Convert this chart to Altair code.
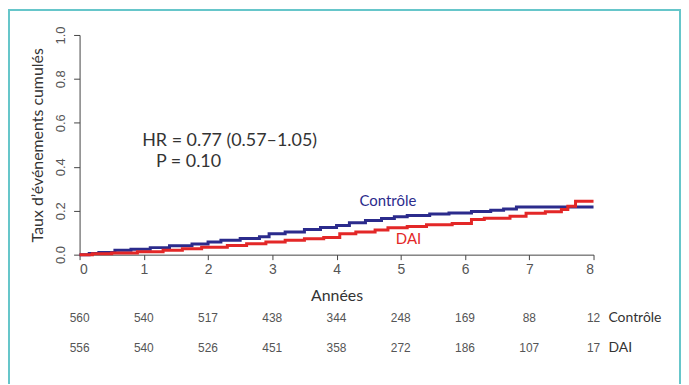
import altair as alt
import pandas as pd

# Cumulative event curves (step functions)
ctrl_t = [0, 0.15, 0.3, 0.55, 0.8, 1.1, 1.4, 1.75, 2.0, 2.2, 2.5, 2.8, 2.95, 3.2, 3.5, 3.75,
          4.0, 4.2, 4.45, 4.7, 4.9, 5.1, 5.45, 5.75, 6.1, 6.4, 6.6, 6.8, 8.0]
ctrl_v = [0, 0.005, 0.01, 0.02, 0.025, 0.032, 0.04, 0.048, 0.058, 0.066, 0.074, 0.082, 0.095,
          0.103, 0.115, 0.124, 0.133, 0.145, 0.155, 0.165, 0.172, 0.178, 0.185, 0.19, 0.196,
          0.202, 0.208, 0.217, 0.217]
dai_t = [0, 0.2, 0.5, 0.9, 1.3, 1.6, 1.9, 2.3, 2.6, 2.9, 3.2, 3.5, 3.8, 4.05, 4.3, 4.6, 4.8,
         5.1, 5.4, 5.8, 6.1, 6.3, 6.7, 6.95, 7.25, 7.5, 7.6, 7.72, 8.0]
dai_v = [0, 0.004, 0.008, 0.013, 0.02, 0.027, 0.034, 0.042, 0.05, 0.058, 0.066, 0.072, 0.078,
         0.095, 0.103, 0.112, 0.122, 0.128, 0.136, 0.142, 0.16, 0.166, 0.175, 0.188, 0.195,
         0.205, 0.22, 0.243, 0.243]

# Number at risk
years = [0, 1, 2, 3, 4, 5, 6, 7, 8]
risk_ctrl = [560, 540, 517, 438, 344, 248, 169, 88, 12]
risk_dai = [556, 540, 526, 451, 358, 272, 186, 107, 17]

x_ticks = [0, 1, 2, 3, 4, 5, 6, 7, 8]
y_ticks = [0.0, 0.2, 0.4, 0.6, 0.8, 1.0]

BLUE = "#2b2b8c"
RED = "#e32727"
TEAL = "#66c6ca"
FONT = "Lato"
NUMFONT = "Liberation Sans Narrow, Liberation Sans, Arial"

curves = pd.concat([
    pd.DataFrame({"t": ctrl_t, "v": ctrl_v, "g": "Contrôle"}),
    pd.DataFrame({"t": dai_t, "v": dai_v, "g": "DAI"}),
])

xs = alt.Scale(domain=[0, 8], nice=False, zero=False)
ys = alt.Scale(domain=[0, 1], nice=False)

lines = alt.Chart(curves).mark_line(interpolate="step-after", strokeWidth=3).encode(
    x=alt.X("t:Q", scale=xs, axis=alt.Axis(
        values=x_ticks, title="Années", format="d", grid=False,
        domainColor="#444", tickColor="#444", tickSize=5,
        labelFont=NUMFONT, labelFontSize=14, labelColor="#555", labelPadding=3,
        titleFont=FONT, titleFontSize=16, titleFontWeight="normal", titleColor="#333",
        titlePadding=11)),
    y=alt.Y("v:Q", scale=ys, axis=alt.Axis(
        values=y_ticks, title="Taux d’événements cumulés", format=".1f", grid=False,
        domainColor="#444", tickColor="#444", tickSize=6,
        labelAngle=270, labelAlign="center", labelBaseline="bottom",
        labelFont=NUMFONT, labelFontSize=13, labelColor="#555", labelPadding=6,
        titleFont=FONT, titleFontSize=16, titleFontWeight="normal", titleColor="#333",
        titlePadding=9)),
    color=alt.Color("g:N", scale=alt.Scale(domain=["Contrôle", "DAI"], range=[BLUE, RED]),
                    legend=None),
)

labels = pd.DataFrame({"t": [4.8, 5.12], "v": [0.244, 0.072], "txt": ["Contrôle", "DAI"],
                       "g": ["Contrôle", "DAI"]})
curve_labels = alt.Chart(labels).mark_text(font=FONT, fontSize=15).encode(
    x=alt.X("t:Q", scale=xs), y=alt.Y("v:Q", scale=ys), text="txt:N",
    color=alt.Color("g:N", scale=alt.Scale(domain=["Contrôle", "DAI"], range=[BLUE, RED]),
                    legend=None),
)

stats = pd.DataFrame({"t": [0.975, 1.19], "v": [0.516, 0.42],
                      "txt": ["HR = 0.77 (0.57–1.05)", "P = 0.10"]})
stat_text = alt.Chart(stats).mark_text(font=FONT, fontSize=18, align="left", color="#333").encode(
    x=alt.X("t:Q", scale=xs), y=alt.Y("v:Q", scale=ys), text="txt:N")

risk1 = pd.DataFrame({"t": years, "n": risk_ctrl})
risk2 = pd.DataFrame({"t": years, "n": risk_dai})
risk_text1 = alt.Chart(risk1).mark_text(font=NUMFONT, fontSize=12, color="#555").encode(
    x=alt.X("t:Q", scale=xs), y=alt.value(285), text="n:Q")
risk_text2 = alt.Chart(risk2).mark_text(font=NUMFONT, fontSize=12, color="#555").encode(
    x=alt.X("t:Q", scale=xs), y=alt.value(315), text="n:Q")

row1 = pd.DataFrame({"t": [8], "txt": ["Contrôle"]})
row2 = pd.DataFrame({"t": [8], "txt": ["DAI"]})
row_lab1 = alt.Chart(row1).mark_text(font=FONT, fontSize=14, align="left", dx=15,
                                     color="#333").encode(
    x=alt.X("t:Q", scale=xs), y=alt.value(285), text="txt:N")
row_lab2 = alt.Chart(row2).mark_text(font=FONT, fontSize=14, align="left", dx=15,
                                     color="#333").encode(
    x=alt.X("t:Q", scale=xs), y=alt.value(315), text="txt:N")

frame = alt.Chart(pd.DataFrame({"a": [0]})).mark_rect(
    filled=False, stroke=TEAL, strokeWidth=2).encode(
    x=alt.value(-71), x2=alt.value(604), y=alt.value(-25), y2=alt.value(420))

chart = alt.layer(frame, lines, curve_labels, stat_text, risk_text1, risk_text2,
                  row_lab1, row_lab2).properties(
    width=517, height=221,
    background="white",
    view=alt.ViewBackground(stroke="transparent", strokeWidth=0, fill="transparent"),
    autosize=alt.AutoSizeParams(type="none"),
    padding={"left": 72, "top": 26, "right": 88, "bottom": 129},
).configure(
    view=alt.ViewConfig(stroke="transparent", strokeWidth=0),
    style={"cell": {"stroke": "transparent", "strokeWidth": 0}},
)

chart.save("out.html", embed_options={"renderer": "svg", "actions": False})
